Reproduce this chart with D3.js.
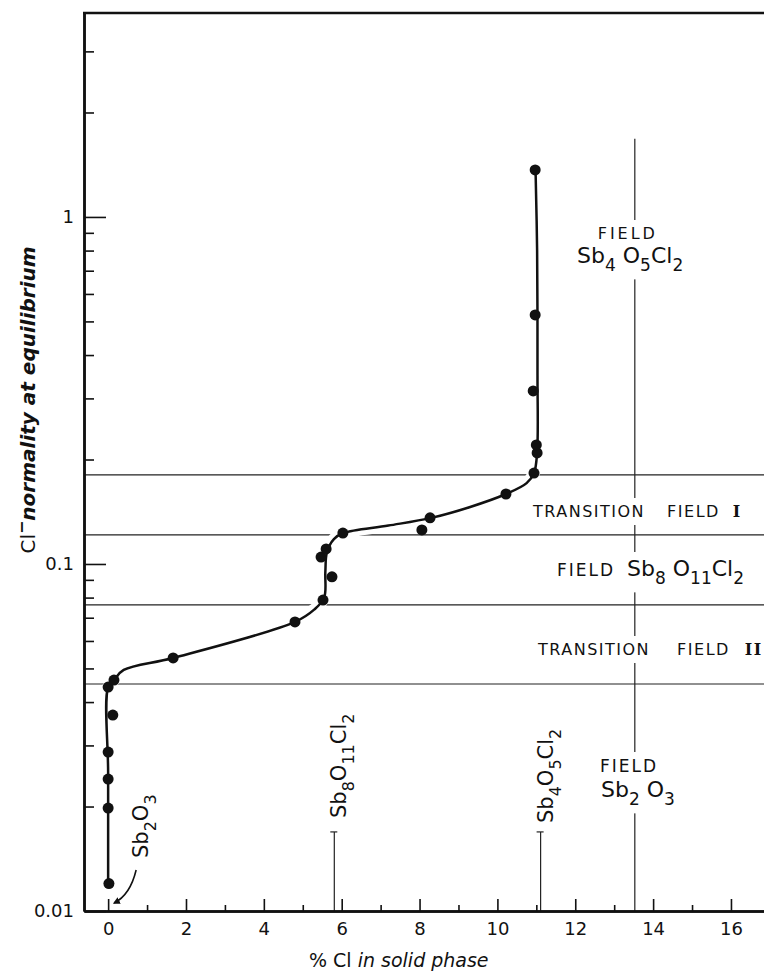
<!DOCTYPE html>
<html>
<head>
<meta charset="utf-8">
<script src="https://cdn.jsdelivr.net/npm/d3@7"></script>
<style>
  body { margin: 0; background: #fff; }
  text { font-family: "DejaVu Sans", sans-serif; fill: #111; }
</style>
</head>
<body>
<svg id="chart"></svg>
<script>
// measured points: % Cl in solid phase vs Cl- normality at equilibrium
const clSolid = [0.02, 0, 0, 0, 0.12, 0, 0.15, 1.67, 4.80, 5.52, 5.75, 5.47, 5.60, 6.03, 8.06, 8.27, 10.22, 10.94, 11.02, 11.00, 10.92, 10.97, 10.97];
const clNormality = [0.012, 0.0198, 0.024, 0.0287, 0.0367, 0.0442, 0.0463, 0.0536, 0.0681, 0.0787, 0.0918, 0.1047, 0.1105, 0.1228, 0.1253, 0.1358, 0.1591, 0.1828, 0.2089, 0.2203, 0.3153, 0.522, 1.366];

// hand drawn curve through the points
const fitSolid = [0, 0, 0, 0.15, 0.4, 1.67, 4.8, 5.3, 5.55, 5.58, 5.62, 5.8, 6.05, 7.2, 8.3, 9.3, 10.22, 10.75, 10.94, 11.02, 11.03, 11.02, 10.98];
const fitNormality = [0.012, 0.025, 0.0442, 0.0463, 0.0495, 0.0536, 0.0681, 0.074, 0.080, 0.095, 0.108, 0.118, 0.1228, 0.129, 0.1358, 0.146, 0.1591, 0.171, 0.1828, 0.21, 0.35, 0.8, 1.366];

// field boundaries (normality) and composition lines (% Cl)
const fieldBounds = [0.0451, 0.0762, 0.1213, 0.1805];
const compLines = [5.81, 11.11];
const sb2o3Field = 13.53;

const xMajor = [0, 2, 4, 6, 8, 10, 12, 14, 16];
const xMinor = [1, 3, 5, 7, 9, 11, 13, 15];
const yMajor = [0.01, 0.1, 1];
const yMinor = [0.02, 0.03, 0.04, 0.05, 0.06, 0.07, 0.08, 0.09, 0.2, 0.3, 0.4, 0.5, 0.6, 0.7, 0.8, 0.9, 2, 3];

const width = 764, height = 976;
const margin = { left: 84, top: 13, right: -2, bottom: 65 };

const svg = d3.select('#chart')
    .attr('width', width)
    .attr('height', height);

svg.append('rect').attr('width', width).attr('height', height).attr('fill', '#fff');

const x = d3.scaleLinear()
    .domain([-0.62, 16.9])
    .range([margin.left, width - margin.right]);

const y = d3.scaleLog()
    .domain([0.01, 3.87])
    .range([height - margin.bottom, margin.top]);

// field boundaries
svg.selectAll('.bound')
    .data(fieldBounds)
    .enter()
    .append('line')
    .attr('class', 'bound')
    .attr('x1', x.range()[0]).attr('x2', x.range()[1])
    .attr('y1', d => y(d)).attr('y2', d => y(d))
    .attr('stroke', '#222').attr('stroke-width', 1.2);

// Sb2O3 field line at 13.5
svg.append('line')
    .attr('x1', x(sb2o3Field)).attr('x2', x(sb2o3Field))
    .attr('y1', y(1.68)).attr('y2', y(0.01))
    .attr('stroke', '#222').attr('stroke-width', 1.2);

// composition lines
compLines.forEach(v => {
    svg.append('line')
        .attr('x1', x(v)).attr('x2', x(v))
        .attr('y1', y(0.0169)).attr('y2', y(0.01))
        .attr('stroke', '#222').attr('stroke-width', 1.2);
    svg.append('line')
        .attr('x1', x(v) - 4).attr('x2', x(v) + 3)
        .attr('y1', y(0.0169)).attr('y2', y(0.0169))
        .attr('stroke', '#222').attr('stroke-width', 1.2);
});

// text with subscripts
function chem(t, parts, size, subSize) {
    let off = 0;
    parts.forEach(p => {
        const target = p[1] ? size * 0.38 : 0;
        t.append('tspan')
            .attr('font-size', p[1] ? subSize : size)
            .attr('dy', target - off)
            .text(p[0]);
        off = target;
    });
}

const labels = svg.append('g');
const masks = [];

// FIELD Sb4O5Cl2 (top)
let g = labels.append('g');
g.append('text').attr('x', x(13.35)).attr('y', 239).attr('text-anchor', 'middle')
    .attr('font-size', 16).attr('letter-spacing', 3).text('FIELD');
chem(g.append('text').attr('x', 577).attr('y', 263),
    [['Sb', 0], ['4', 1], [' O', 0], ['5', 1], ['Cl', 0], ['2', 1]], 22, 17);
masks.push(g);

// TRANSITION FIELD I
g = labels.append('g');
let t = g.append('text').attr('x', 533).attr('y', 517).attr('font-size', 16).attr('letter-spacing', 1.5);
t.append('tspan').text('TRANSITION');
t.append('tspan').attr('dx', 22).text('FIELD');
t.append('tspan').attr('dx', 13).attr('font-family', 'DejaVu Serif').attr('font-weight', 'bold').text('I');
masks.push(g);

// FIELD Sb8O11Cl2
g = labels.append('g');
g.append('text').attr('x', 557).attr('y', 576).attr('font-size', 17).attr('letter-spacing', 2).text('FIELD');
chem(g.append('text').attr('x', 627).attr('y', 576),
    [['Sb', 0], ['8', 1], [' O', 0], ['11', 1], ['Cl', 0], ['2', 1]], 22, 17);
masks.push(g);

// TRANSITION FIELD II
g = labels.append('g');
t = g.append('text').attr('x', 538).attr('y', 655).attr('font-size', 16).attr('letter-spacing', 1.5);
t.append('tspan').text('TRANSITION');
t.append('tspan').attr('dx', 27).text('FIELD');
t.append('tspan').attr('dx', 15).attr('font-family', 'DejaVu Serif').attr('font-weight', 'bold').text('II');
masks.push(g);

// FIELD Sb2O3 (bottom)
g = labels.append('g');
g.append('text').attr('x', 600).attr('y', 772).attr('font-size', 17).attr('letter-spacing', 2).text('FIELD');
chem(g.append('text').attr('x', 601).attr('y', 797),
    [['Sb', 0], ['2', 1], [' O', 0], ['3', 1]], 22, 17);
masks.push(g);

// cut the 13.5 line around the labels
masks.forEach(m => {
    const b = m.node().getBBox();
    labels.insert('rect', ':first-child')
        .attr('x', x(sb2o3Field) - 4).attr('width', 8)
        .attr('y', b.y - 4).attr('height', b.height + 8)
        .attr('fill', '#fff');
});

// rotated composition labels
function rotChem(px, py, parts) {
    const tt = svg.append('text')
        .attr('transform', `translate(${px},${py}) rotate(-90)`);
    chem(tt, parts, 21, 16);
}
rotChem(x(compLines[0]) + 12, 818, [['Sb', 0], ['8', 1], ['O', 0], ['11', 1], ['Cl', 0], ['2', 1]]);
rotChem(x(compLines[1]) + 12, 823, [['Sb', 0], ['4', 1], ['O', 0], ['5', 1], ['Cl', 0], ['2', 1]]);
rotChem(x(0) + 40, 858, [['Sb', 0], ['2', 1], ['O', 0], ['3', 1]]);

// arrow to Sb2O3 corner
svg.append('defs').append('marker')
    .attr('id', 'arrow')
    .attr('viewBox', '0 0 10 10')
    .attr('refX', 8).attr('refY', 5)
    .attr('markerWidth', 7).attr('markerHeight', 7)
    .attr('markerUnits', 'userSpaceOnUse')
    .attr('orient', 'auto')
    .append('path').attr('d', 'M0,0 L10,5 L0,10 z').attr('fill', '#111');

svg.append('path')
    .attr('d', `M${x(0) + 28},${y(0.01) - 41} Q${x(0) + 22},${y(0.01) - 16} ${x(0) + 6},${y(0.01) - 8}`)
    .attr('fill', 'none').attr('stroke', '#111').attr('stroke-width', 1.6)
    .attr('marker-end', 'url(#arrow)');

// curve
const fitData = fitSolid.map((v, i) => [v, fitNormality[i]]);
const line = d3.line()
    .x(d => x(d[0]))
    .y(d => y(d[1]))
    .curve(d3.curveCatmullRom.alpha(0.5));

svg.append('path')
    .datum(fitData)
    .attr('d', line)
    .attr('fill', 'none').attr('stroke', '#fff').attr('stroke-width', 12);

svg.append('path')
    .datum(fitData)
    .attr('d', line)
    .attr('fill', 'none').attr('stroke', '#111').attr('stroke-width', 2.5);

// points
svg.selectAll('.pt')
    .data(clSolid.map((v, i) => [v, clNormality[i]]))
    .enter()
    .append('circle')
    .attr('class', 'pt')
    .attr('cx', d => x(d[0]))
    .attr('cy', d => y(d[1]))
    .attr('r', 5.5)
    .attr('fill', '#111');

// axes
const axisStyle = g2 => {
    g2.select('.domain').attr('stroke', '#111').attr('stroke-width', 2.5);
    g2.selectAll('.tick line').attr('stroke', '#111').attr('stroke-width', 1.6);
    g2.selectAll('text').attr('font-size', 18).attr('fill', '#111')
        .attr('font-family', '"DejaVu Sans", sans-serif');
};

const yAxisMinor = svg.append('g')
    .attr('transform', `translate(${margin.left},0)`)
    .call(d3.axisLeft(y).tickValues(yMinor).tickSize(-10).tickSizeOuter(0).tickFormat(''));
axisStyle(yAxisMinor);

const yAxis = svg.append('g')
    .attr('transform', `translate(${margin.left},0)`)
    .call(d3.axisLeft(y).tickValues(yMajor).tickSize(-22).tickSizeOuter(0).tickPadding(10)
        .tickFormat(d => d === 1 ? '1' : String(d)));
axisStyle(yAxis);

const xAxisMinor = svg.append('g')
    .attr('transform', `translate(0,${height - margin.bottom})`)
    .call(d3.axisBottom(x).tickValues(xMinor).tickSize(-6).tickSizeOuter(0).tickFormat(''));
axisStyle(xAxisMinor);

const xAxis = svg.append('g')
    .attr('transform', `translate(0,${height - margin.bottom})`)
    .call(d3.axisBottom(x).tickValues(xMajor).tickSize(-12).tickSizeOuter(0).tickPadding(11));
axisStyle(xAxis);

// top border
svg.append('line')
    .attr('x1', margin.left - 1).attr('x2', width)
    .attr('y1', margin.top).attr('y2', margin.top)
    .attr('stroke', '#111').attr('stroke-width', 2.5);

// axis titles
const yt = svg.append('text')
    .attr('transform', `translate(35,${(y(1) + y(0.01)) / 2 - 164}) rotate(-90)`)
    .attr('text-anchor', 'middle')
    .attr('font-size', 20);
yt.append('tspan').text('Cl');
yt.append('tspan').attr('dy', -8).attr('font-size', 16).attr('font-weight', 'bold').text('\u2212');
yt.append('tspan').attr('dy', 8).attr('font-style', 'italic').attr('font-weight', 'bold').text('normality at equilibrium');

const xt = svg.append('text')
    .attr('x', 309).attr('y', 967)
    .attr('font-size', 19);
xt.append('tspan').text('% Cl ');
xt.append('tspan').attr('font-style', 'italic').text('in solid phase');
</script>
</body>
</html>
